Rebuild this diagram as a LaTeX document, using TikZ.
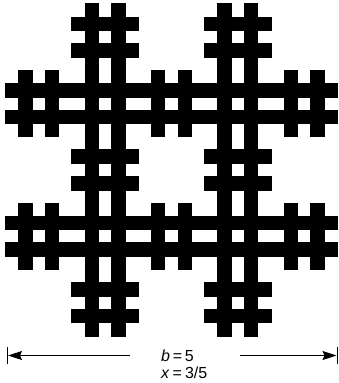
\documentclass[tikz,border=0pt]{standalone}
\usepackage{fontspec}
\setmainfont{Liberation Sans}
\usetikzlibrary{arrows.meta}

% cells of a # on a 5x5 grid: rows and columns 1 and 3
\def\hashcells{1/0,3/0,0/1,1/1,2/1,3/1,4/1,1/2,3/2,0/3,1/3,2/3,3/3,4/3,1/4,3/4}

\begin{document}
\begin{tikzpicture}[
  x=1pt, y=-1pt,
  sq/.style={fill=black, draw=black, line width=1.2pt},
  arr/.style={-{Stealth[length=14pt, width=9pt, inset=2pt]}, line width=0.8pt},
  tickbar/.style={line width=0.9pt},
  lbl/.style={font=\fontsize{16}{17}\selectfont, align=left, inner sep=0pt},
]
\useasboundingbox (0,0) rectangle (339,383);

% Fractal: every cell of the big # holds a small #
\foreach \i/\j in \hashcells {
  \foreach \k/\l in \hashcells {
    \filldraw[sq] ({5.5+66.4*\i+13.28*\k}, {4+66.4*\j+13.28*\l}) rectangle ++(13.28,13.28);
  }
}

% Dimension line
\node[lbl, anchor=west] (dim) at (161,364) {\textit{b}\,=\,5\\\textit{x}\hspace{3pt}=\hspace{3pt}3/5};

\coordinate (lend) at (7,355.5);
\coordinate (rend) at (337.5,355.5);
\coordinate (lstart) at (130,355.5);
\coordinate (rstart) at (240,355.5);

\draw[arr] (lstart) -- ([xshift=1pt]lend);
\draw[arr] (rstart) -- ([xshift=-1pt]rend);
\draw[tickbar] ([yshift=-8.5pt]lend) -- ([yshift=8.5pt]lend);
\draw[tickbar] ([yshift=-8.5pt]rend) -- ([yshift=8.5pt]rend);

\end{tikzpicture}
\end{document}
